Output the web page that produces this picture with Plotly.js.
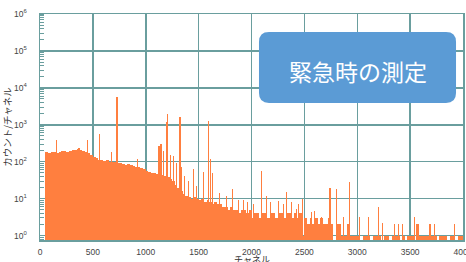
<!DOCTYPE html>
<html><head><meta charset="utf-8">
<script src="https://cdn.plot.ly/plotly-3.0.1.min.js"></script>
<style>html,body{margin:0;padding:0;background:#fff}#chart{width:466px;height:262px}</style>
</head><body><div id="chart"></div>
<script>
// counts per 25-channel bin, starting at channel 0
const binStart = 0;
const binWidth = 25;
const baseCounts = [
  0,0,180,172,178,185,176,182,190,196,
  188,200,205,214,224,210,196,186,172,150,
  132,124,112,108,104,110,100,96,98,92,
  90,88,84,86,80,78,74,72,66,62,
  56,54,51,50,47,46,44,42,38,34,
  30,24,19,16,13,12,11,10,11,10,
  9,10,8,9,8,7,8,7,7,6,
  6,5,6,5,5,4,5,5,4,5,
  3,4,4,3,4,4,3,4,4,3,
  4,4,3,4,4,3,4,3,4,1,
  3,2,3,2,3,2,3,2,2,3,
  2,0,2,2,1,1,2,1,1,1,
  1,0,1,1,1,0,1,1,1,0,
  1,1,0,1,1,1,0,1,0,1,
  1,1,0,1,1,1,1,0,1,1,
  0,1,1,1,0,1,1,0,1,1
];
// narrow peaks
const spikeChannels = [158,369,450,561,678,728,924,1125,1144,1170,1195,1210,1230,1261,1290,1324,1340,1370,1400,1450,1480,1545,1592,1614,1630,1700,1760,1822,1880,1923,1960,2020,2097,2140,2180,2253,2300,2332,2380,2427,2440,2484,2569,2600,2660,2742,2806,2868,2931,3019,3104,3199,3240,3352,3390,3430,3540,3565,3580,3688,3728,3924];
const spikeCounts   = [380,240,380,550,180,5600,115,260,300,200,1200,1950,150,140,90,1650,70,40,30,62,22,52,1260,115,50,14,12,18,9,9,8,7,56,12,8,8.5,7,15,8,5.4,7,10,4.3,4.5,3.2,19,18,3.2,28,3.2,3.2,5.9,2.2,2.1,2.1,2.1,3.2,2,2,2.1,2.1,2.1];

const xTickVals = [0,500,1000,1500,2000,2500,3000,3500,4000];
const xTickText = ['0','500','1000','1500','2000','2500','3000','3500','4000'];
const yTickVals = [1,10,100,1000,10000,100000,1000000];
const yTickText = ['10<sup>0</sup>','10<sup>1</sup>','10<sup>2</sup>','10<sup>3</sup>','10<sup>4</sup>','10<sup>5</sup>','10<sup>6</sup>'];
const xTitle = 'チャネル';
const yTitle = 'カウント/チャネル';
const badgeText = '緊急時の測定';

const orange = '#FF7F3F';
const gridCol = '#6a9e9e';
const tickFont = {family: 'Liberation Sans Narrow, Arial Narrow, Liberation Sans, Arial, sans-serif', size: 8.5, color: '#444'};
const jpFont = 'Noto Sans CJK JP, sans-serif';

const traces = [
  {type: 'bar', x0: binStart + binWidth / 2, dx: binWidth, y: baseCounts, width: binWidth,
   marker: {color: orange, line: {width: 0}}, hoverinfo: 'skip'},
  {type: 'bar', x: spikeChannels, y: spikeCounts, width: 10,
   marker: {color: orange, line: {width: 0}}, hoverinfo: 'skip'}
];

// rounded badge (paper coords)
const bx0 = 0.5177, bx1 = 0.9835, by0 = 0.6062, by1 = 0.9204, rx = 0.0236, ry = 0.0442;
const badgePath = `M ${bx0+rx},${by1} L ${bx1-rx},${by1} Q ${bx1},${by1} ${bx1},${by1-ry} L ${bx1},${by0+ry} Q ${bx1},${by0} ${bx1-rx},${by0} L ${bx0+rx},${by0} Q ${bx0},${by0} ${bx0},${by0+ry} L ${bx0},${by1-ry} Q ${bx0},${by1} ${bx0+rx},${by1} Z`;

const layout = {
  width: 466, height: 262,
  margin: {l: 40, r: 3, t: 14, b: 22},
  paper_bgcolor: '#fff', plot_bgcolor: '#fff',
  barmode: 'overlay', bargap: 0, showlegend: false,
  xaxis: {
    range: [0, 4000], tickmode: 'array', tickvals: xTickVals, ticktext: xTickText,
    showgrid: true, gridcolor: gridCol, gridwidth: 1.5, zeroline: false,
    showline: true, linecolor: gridCol, linewidth: 1.5, mirror: true,
    ticks: '', tickfont: tickFont, ticklabelstandoff: 3, ticklabeloverflow: 'allow',
    fixedrange: true
  },
  yaxis: {
    type: 'log', range: [-0.12, 6], tickmode: 'array', tickvals: yTickVals, ticktext: yTickText,
    showgrid: true, gridcolor: gridCol, gridwidth: 1.5, zeroline: false,
    showline: true, linecolor: gridCol, linewidth: 1.5, mirror: true,
    ticks: '', tickfont: tickFont, ticklabelstandoff: 10,
    minor: {ticks: 'inside', ticklen: 4, tickcolor: gridCol, tickwidth: 1, dtick: 'D1', showgrid: false},
    title: {text: yTitle, font: {family: jpFont, size: 9.5, color: '#333'}, standoff: 2},
    fixedrange: true
  },
  shapes: [{type: 'path', xref: 'paper', yref: 'paper', path: badgePath,
            fillcolor: '#5B9BD5', line: {width: 0}, layer: 'above'}],
  annotations: [
    {xref: 'paper', yref: 'paper', x: 0.7506, y: 0.748, xanchor: 'center', yanchor: 'middle',
     text: badgeText, showarrow: false, font: {family: jpFont, size: 23, color: '#fff'}},
    // x-axis title, sitting at the bottom edge (partly cut off, as in the original)
    {xref: 'paper', yref: 'paper', x: 0.5, y: -0.088, xanchor: 'center', yanchor: 'middle',
     text: xTitle, showarrow: false, font: {family: jpFont, size: 9, color: '#333'}}
  ]
};

Plotly.newPlot('chart', traces, layout, {staticPlot: true, displayModeBar: false});
</script>
</body></html>
